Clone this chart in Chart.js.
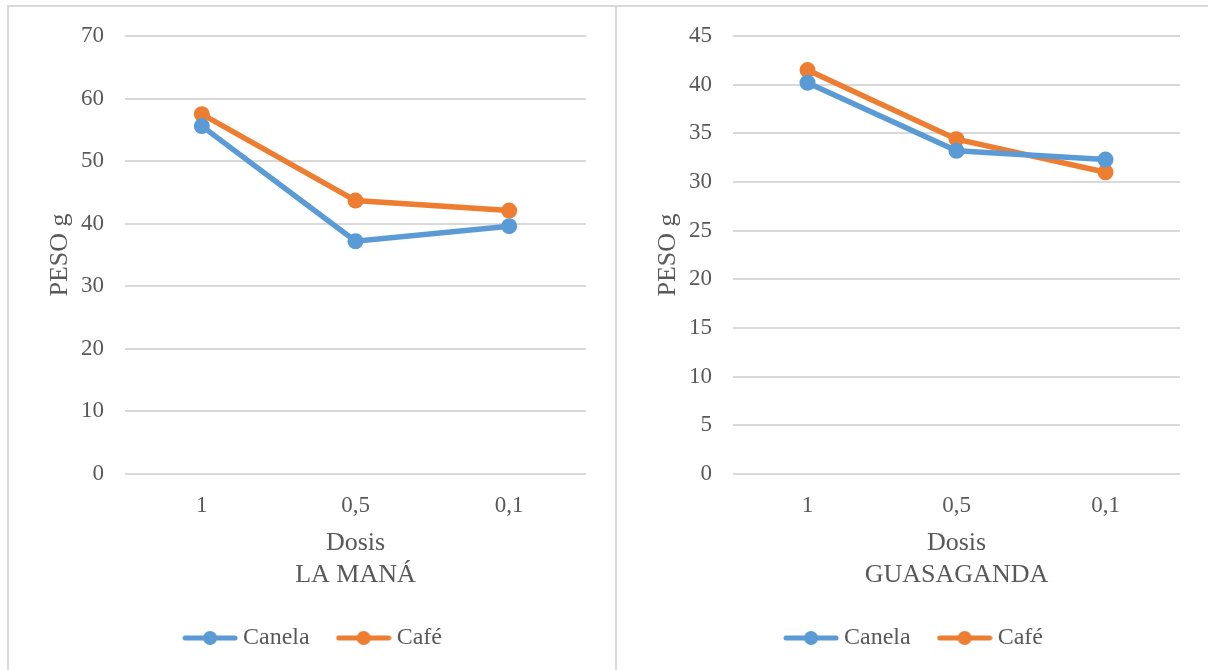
<!DOCTYPE html>
<html>
<head>
<meta charset="utf-8">
<script src="https://cdn.jsdelivr.net/npm/chart.js@4.4.1/dist/chart.umd.min.js"></script>
<style>
  body { margin: 0; background: #fff; width: 1208px; height: 670px; overflow: hidden; position: relative; }
  .panel { position: absolute; top: 5px; height: 700px; border-left: 2px solid #d9d9d9; border-top: 2px solid #d9d9d9; }
  #p1 { left: 7px; width: 608px; }
  #p2 { left: 615px; width: 620px; }
  canvas { display: block; }
</style>
</head>
<body>
<div class="panel" id="p1"><canvas id="c1" width="606" height="663"></canvas></div>
<div class="panel" id="p2"><canvas id="c2" width="600" height="663"></canvas></div>
<script>
// data
const dosis = ['1', '0,5', '0,1'];
const seriesNames = ['Canela', 'Café'];
const manaCanela = [55.6, 37.2, 39.6];
const manaCafe = [57.5, 43.7, 42.1];
const guasaCanela = [40.2, 33.2, 32.3];
const guasaCafe = [41.5, 34.4, 31.0];

const blue = '#5B9BD5';
const orange = '#ED7D31';
const textColor = '#595959';
const serif = "'Liberation Serif', 'Times New Roman', serif";

// little line + dot picture for the legend
function legendMark(color) {
  const c = document.createElement('canvas');
  c.width = 56; c.height = 16;
  const ctx = c.getContext('2d');
  ctx.strokeStyle = color;
  ctx.lineWidth = 5;
  ctx.lineCap = 'round';
  ctx.beginPath();
  ctx.moveTo(3, 8); ctx.lineTo(53, 8);
  ctx.stroke();
  ctx.fillStyle = color;
  ctx.beginPath();
  ctx.arc(28, 8, 7, 0, Math.PI * 2);
  ctx.fill();
  return c;
}
const marks = [legendMark(blue), legendMark(orange)];

function makeChart(id, canela, cafe, place, maxY, step, padRight) {
  new Chart(document.getElementById(id), {
    type: 'line',
    data: {
      labels: dosis,
      datasets: [
        { label: seriesNames[0], data: canela, borderColor: blue, backgroundColor: blue },
        { label: seriesNames[1], data: cafe, borderColor: orange, backgroundColor: orange }
      ]
    },
    options: {
      responsive: false,
      animation: false,
      events: [],
      layout: { padding: { left: 36, right: padRight, top: 29, bottom: 10 } },
      elements: {
        line: { borderWidth: 5.5, tension: 0 },
        point: { radius: 8, borderWidth: 0, hoverRadius: 8 }
      },
      plugins: {
        tooltip: { enabled: false },
        legend: {
          position: 'bottom',
          labels: {
            usePointStyle: true,
            pointStyleWidth: 42,
            padding: 33,
            color: textColor,
            font: { family: serif, size: 24 },
            generateLabels: (chart) => chart.data.datasets.map((ds, i) => ({
              text: ds.label,
              pointStyle: marks[i],
              fontColor: textColor,
              datasetIndex: i,
              hidden: false
            }))
          }
        }
      },
      scales: {
        x: {
          offset: true,
          grid: { display: false, drawTicks: false },
          border: { display: false },
          ticks: { color: textColor, font: { family: serif, size: 23 }, padding: 18 },
          title: {
            display: true,
            text: ['Dosis', place],
            color: textColor,
            font: { family: serif, size: 26, lineHeight: 1.23 },
            padding: { top: 0, bottom: 2 }
          },
          afterFit: (s) => { s.height = 119; }
        },
        y: {
          min: 0,
          max: maxY,
          grid: { color: '#d9d9d9', lineWidth: 2, drawTicks: false },
          border: { display: false },
          ticks: { stepSize: step, color: textColor, font: { family: serif, size: 23 }, padding: 21 },
          title: {
            display: true,
            text: 'PESO g',
            color: textColor,
            font: { family: serif, size: 26 },
            padding: 0
          },
          afterFit: (s) => { s.width = 80; s.paddingTop = 0; s.paddingBottom = 0; }
        }
      }
    }
  });
}

makeChart('c1', manaCanela, manaCafe, 'LA MANÁ', 70, 10, 29);
makeChart('c2', guasaCanela, guasaCafe, 'GUASAGANDA', 45, 5, 37);
</script>
</body>
</html>
